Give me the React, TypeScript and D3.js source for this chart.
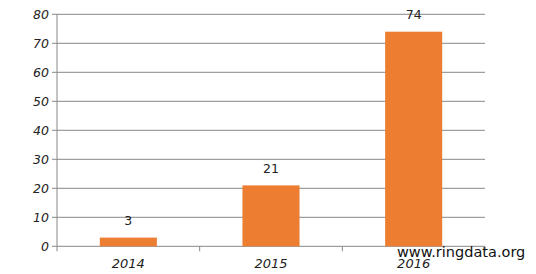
import React from "react";
import * as d3 from "d3";

const categories = ["2014", "2015", "2016"];
const values = [3, 21, 74];
const yTicks = [0, 10, 20, 30, 40, 50, 60, 70, 80];

const W = 536;
const H = 274;
const margin = { left: 57, right: 51, top: 14.3, bottom: 27.7 };

export default function App() {
  const x = d3
    .scaleBand<string>()
    .domain(categories)
    .range([margin.left, W - margin.right])
    .paddingInner(0)
    .paddingOuter(0);
  const y = d3.scaleLinear().domain([0, 80]).range([H - margin.bottom, margin.top]);
  const bw = x.bandwidth() * 0.4;
  const font = "'DejaVu Sans', sans-serif";
  const boundaries = [...categories.map((c) => x(c) as number), W - margin.right];

  return (
    <div style={{ position: "fixed", left: 0, top: 0 }}>
      <svg width={W} height={H} style={{ display: "block", background: "#fff" }}>
        {yTicks.map((t) => (
          <g key={t}>
            <line x1={margin.left - 5} x2={W - margin.right} y1={y(t)} y2={y(t)} stroke="#888" strokeWidth={1} />
            <text
              x={49}
              y={y(t)}
              dy="0.35em"
              textAnchor="end"
              fontFamily={font}
              fontStyle="italic"
              fontSize={12.5}
              fill="#222"
            >
              {t}
            </text>
          </g>
        ))}
        <line x1={margin.left} x2={margin.left} y1={margin.top} y2={y(0) + 5} stroke="#888" strokeWidth={1} />
        {boundaries.slice(1).map((b, i) => (
          <line key={i} x1={b} x2={b} y1={y(0)} y2={y(0) + 5} stroke="#888" strokeWidth={1} />
        ))}
        {categories.map((c, i) => {
          const cx = (x(c) as number) + x.bandwidth() / 2;
          return (
            <g key={c}>
              <rect x={cx - bw / 2} y={y(values[i])} width={bw} height={y(0) - y(values[i])} fill="#ED7D31" />
              <text
                x={cx}
                y={y(values[i]) - 17}
                dy="0.35em"
                textAnchor="middle"
                fontFamily={font}
                fontSize={12.5}
                fill="#222"
              >
                {values[i]}
              </text>
              <text
                x={cx}
                y={263}
                dy="0.35em"
                textAnchor="middle"
                fontFamily={font}
                fontStyle="italic"
                fontSize={13}
                fill="#222"
              >
                {c}
              </text>
            </g>
          );
        })}
        <text x={397} y={257} fontFamily="'DejaVu Sans', Verdana, sans-serif" fontSize={14.5} fill="#111">
          www.ringdata.org
        </text>
      </svg>
    </div>
  );
}
